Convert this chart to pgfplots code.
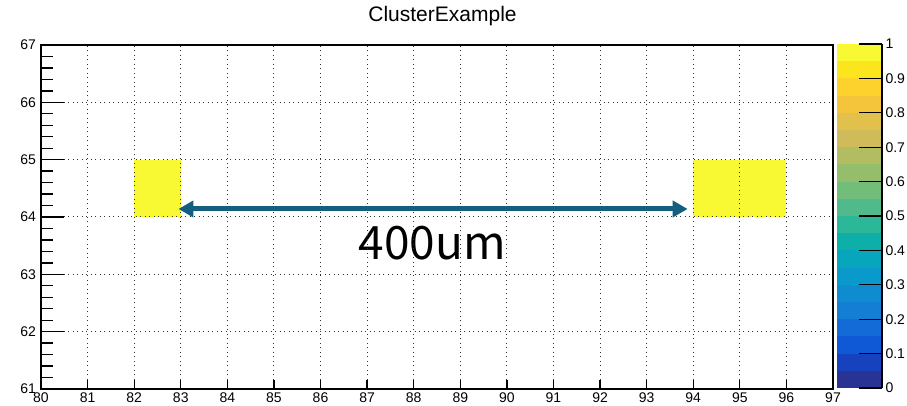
\documentclass[border=0pt]{standalone}
\usepackage{pgfplots}
\pgfplotsset{compat=1.18}
\usetikzlibrary{arrows.meta}
\usepackage{fontspec}
\setmainfont{Liberation Sans}
\newfontfamily\cjk{Noto Sans CJK JP}
\definecolor{b0}{rgb}{0.160,0.200,0.580}
\definecolor{b1}{rgb}{0.091,0.260,0.740}
\definecolor{b2}{rgb}{0.063,0.350,0.840}
\definecolor{b3}{rgb}{0.070,0.420,0.840}
\definecolor{b4}{rgb}{0.078,0.490,0.830}
\definecolor{b5}{rgb}{0.057,0.550,0.810}
\definecolor{b6}{rgb}{0.035,0.605,0.795}
\definecolor{b7}{rgb}{0.030,0.650,0.740}
\definecolor{b8}{rgb}{0.050,0.686,0.660}
\definecolor{b9}{rgb}{0.178,0.717,0.600}
\definecolor{b10}{rgb}{0.317,0.730,0.550}
\definecolor{b11}{rgb}{0.449,0.742,0.480}
\definecolor{b12}{rgb}{0.581,0.746,0.420}
\definecolor{b13}{rgb}{0.699,0.740,0.380}
\definecolor{b14}{rgb}{0.816,0.733,0.351}
\definecolor{b15}{rgb}{0.884,0.753,0.293}
\definecolor{b16}{rgb}{0.956,0.774,0.231}
\definecolor{b17}{rgb}{0.992,0.822,0.171}
\definecolor{b18}{rgb}{0.984,0.903,0.112}
\definecolor{b19}{rgb}{0.977,0.977,0.200}
\definecolor{arrowc}{RGB}{20,94,128}
\begin{document}
\begin{tikzpicture}
\path[use as bounding box] (0pt,0pt) rectangle (907pt,406pt);
\node[anchor=base, font=\fontsize{21}{21}\selectfont] at (442.5pt,384pt) {ClusterExample};
\begin{axis}[
  at={(41pt,17pt)}, anchor=south west,
  width=792pt, height=344pt, scale only axis,
  xmin=80, xmax=97, ymin=61, ymax=67,
  xtick={80,81,...,97}, ytick={61,62,...,67},
  minor y tick num=4,
  xtick pos=bottom, ytick pos=left,
  tick align=inside,
  grid=major,
  major grid style={black!80, line width=1pt, dash pattern=on 1pt off 3.5pt},
  axis on top,
  axis line style={line width=1.3pt},
  tick style={line width=1.3pt, black},
  major tick length=23pt, minor tick length=12pt,
  xtick style={/pgfplots/major tick length=9pt},
  tick label style={font=\fontsize{14}{14}\selectfont},
  yticklabel style={xshift=-1.5pt},
  /pgf/number format/assume math mode=true,
]
\addplot[fill=b19, draw=none] coordinates {(82,64) (83,64) (83,65) (82,65)} --cycle;
\addplot[fill=b19, draw=none] coordinates {(94,64) (95,64) (95,65) (94,65)} --cycle;
\addplot[fill=b19, draw=none] coordinates {(95,64) (96,64) (96,65) (95,65)} --cycle;
\coordinate (AL) at (axis cs:82.95,64.14);
\coordinate (AR) at (axis cs:93.88,64.14);
\node[anchor=base, font=\fontsize{46}{46}\cjk] at (axis cs:88.4,63.25) {400um};
\end{axis}
\draw[arrowc, line width=5pt, {Triangle[length=15pt,width=16pt]}-{Triangle[length=15pt,width=16pt]}] (AL) -- (AR);
\begin{axis}[
  at={(837pt,18pt)}, anchor=south west,
  width=45pt, height=344pt, scale only axis,
  xmin=0, xmax=1, ymin=0, ymax=1,
  axis x line=none, axis y line*=right,
  ytick={0,0.1,0.2,0.3,0.4,0.5,0.6,0.7,0.8,0.9,1},
  yticklabels={0,0.1,0.2,0.3,0.4,0.5,0.6,0.7,0.8,0.9,1},
  tick align=inside, major tick length=23pt,
  axis line style={line width=1.3pt},
  tick style={line width=1.3pt, black},
  axis on top,
  tick label style={font=\fontsize{14}{14}\selectfont},
]
\addplot[fill=b0, draw=none] coordinates {(0,0.00) (1,0.00) (1,0.05) (0,0.05)} --cycle;
\addplot[fill=b1, draw=none] coordinates {(0,0.05) (1,0.05) (1,0.10) (0,0.10)} --cycle;
\addplot[fill=b2, draw=none] coordinates {(0,0.10) (1,0.10) (1,0.15) (0,0.15)} --cycle;
\addplot[fill=b3, draw=none] coordinates {(0,0.15) (1,0.15) (1,0.20) (0,0.20)} --cycle;
\addplot[fill=b4, draw=none] coordinates {(0,0.20) (1,0.20) (1,0.25) (0,0.25)} --cycle;
\addplot[fill=b5, draw=none] coordinates {(0,0.25) (1,0.25) (1,0.30) (0,0.30)} --cycle;
\addplot[fill=b6, draw=none] coordinates {(0,0.30) (1,0.30) (1,0.35) (0,0.35)} --cycle;
\addplot[fill=b7, draw=none] coordinates {(0,0.35) (1,0.35) (1,0.40) (0,0.40)} --cycle;
\addplot[fill=b8, draw=none] coordinates {(0,0.40) (1,0.40) (1,0.45) (0,0.45)} --cycle;
\addplot[fill=b9, draw=none] coordinates {(0,0.45) (1,0.45) (1,0.50) (0,0.50)} --cycle;
\addplot[fill=b10, draw=none] coordinates {(0,0.50) (1,0.50) (1,0.55) (0,0.55)} --cycle;
\addplot[fill=b11, draw=none] coordinates {(0,0.55) (1,0.55) (1,0.60) (0,0.60)} --cycle;
\addplot[fill=b12, draw=none] coordinates {(0,0.60) (1,0.60) (1,0.65) (0,0.65)} --cycle;
\addplot[fill=b13, draw=none] coordinates {(0,0.65) (1,0.65) (1,0.70) (0,0.70)} --cycle;
\addplot[fill=b14, draw=none] coordinates {(0,0.70) (1,0.70) (1,0.75) (0,0.75)} --cycle;
\addplot[fill=b15, draw=none] coordinates {(0,0.75) (1,0.75) (1,0.80) (0,0.80)} --cycle;
\addplot[fill=b16, draw=none] coordinates {(0,0.80) (1,0.80) (1,0.85) (0,0.85)} --cycle;
\addplot[fill=b17, draw=none] coordinates {(0,0.85) (1,0.85) (1,0.90) (0,0.90)} --cycle;
\addplot[fill=b18, draw=none] coordinates {(0,0.90) (1,0.90) (1,0.95) (0,0.95)} --cycle;
\addplot[fill=b19, draw=none] coordinates {(0,0.95) (1,0.95) (1,1.00) (0,1.00)} --cycle;
\end{axis}
\end{tikzpicture}
\end{document}
